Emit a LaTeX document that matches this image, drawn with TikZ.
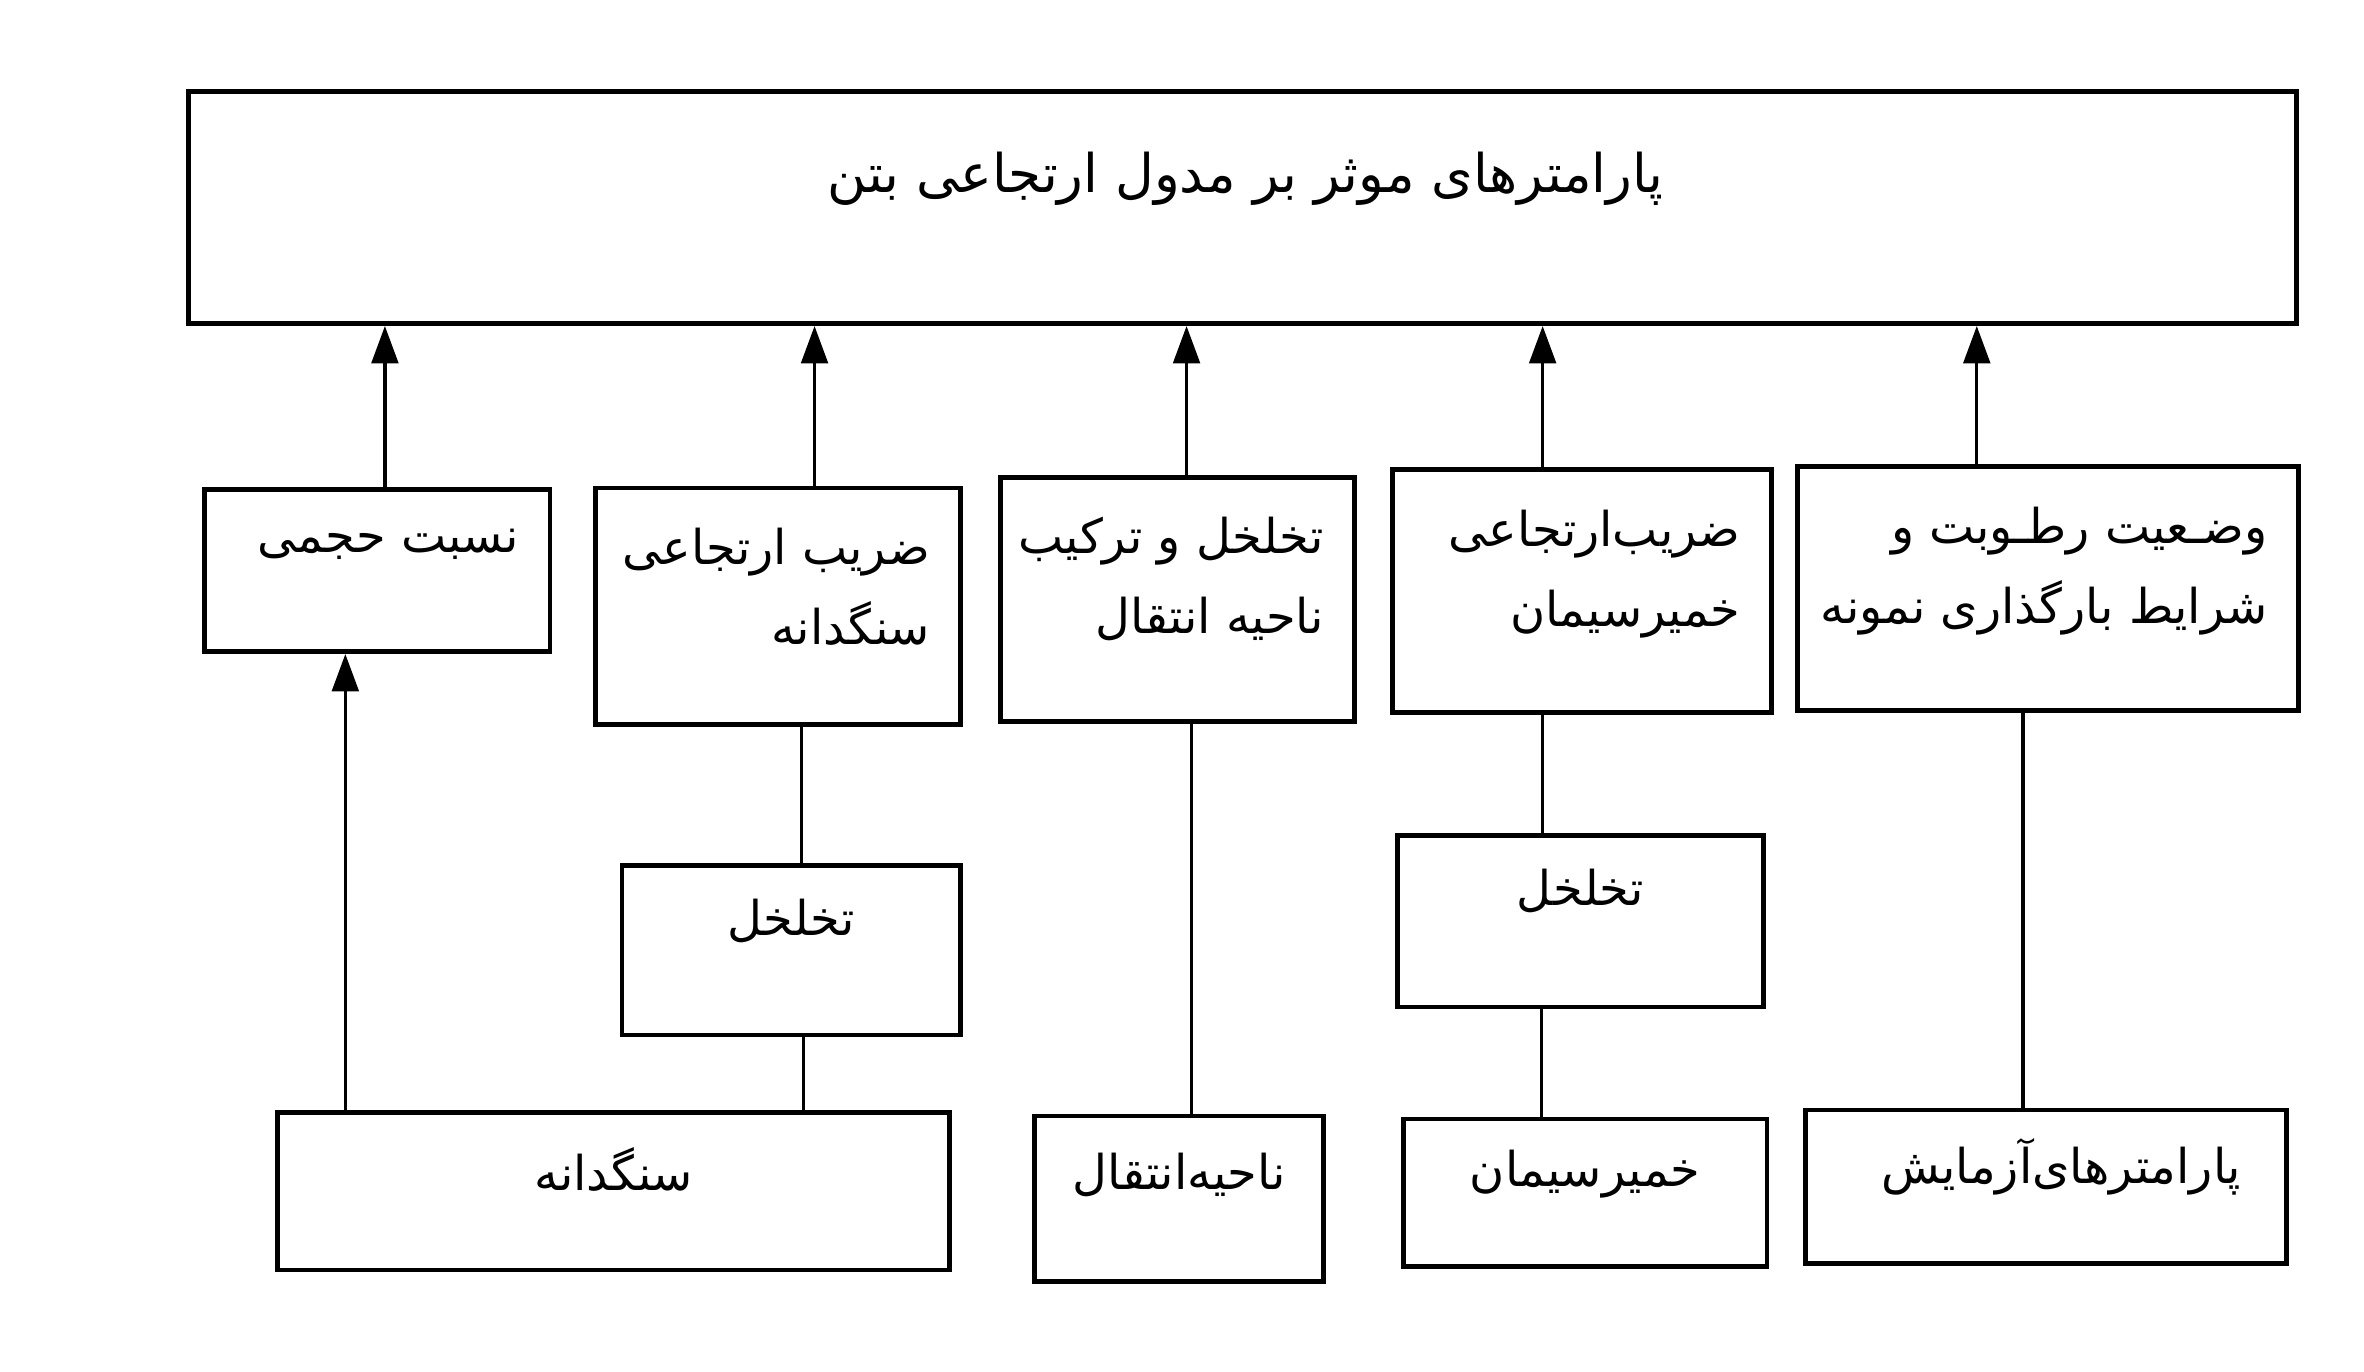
\documentclass[tikz,border=0pt]{standalone}
\usepackage{fontspec}
\newfontfamily\arabicfont[Script=Arabic]{DejaVu Sans}
\TeXXeTstate=1
\usetikzlibrary{arrows.meta}
\newcommand{\R}[1]{\beginR #1\endR}
\begin{document}
\begin{tikzpicture}[x=0.01cm,y=-0.01cm,
 box/.style={draw,line width=0.9pt,inner sep=0pt,font=\arabicfont\fontsize{9}{15}\selectfont},
 con/.style={line width=0.6pt},
 arr/.style={con,-{Triangle[length=7pt,width=5pt]}}]
\useasboundingbox (0,0) rectangle (1560,905);
\newcommand{\bx}[6]{\node[box,minimum width={(#4-#2)*0.01cm},minimum height={(#5-#3)*0.01cm}] (#1) at ({(#2+#4)/2},{(#3+#5)/2}) {}; \node[font=\arabicfont\fontsize{9}{15}\selectfont,align=right,anchor=north east] at (#4-8,#3+14) {#6};}
\node[box,minimum width=13.9cm,minimum height=1.53cm] (top) at (820,137) {};
\node[font=\arabicfont\fontsize{10}{15}\selectfont] at (822,118) {\R{پارامترهای موثر بر مدول ارتجاعی بتن}};
\bx{A}{135}{323}{363}{430}{\R{نسبت حجمی}}
\bx{B}{393}{322}{634}{478}{\R{ضریب ارتجاعی}\\\R{سنگدانه}}
\bx{C}{660}{315}{894}{476}{\R{تخلخل و ترکیب}\\\R{ناحیه انتقال}}
\bx{D}{919}{310}{1169}{470}{\R{ضریب‌ارتجاعی}\\\R{خمیرسیمان}}
\bx{E}{1186}{308}{1517}{469}{\R{وضـعیت رطـوبت و}\\\R{شرایط بارگذاری نمونه}}
\node[box,minimum width=2.23cm,minimum height=1.12cm] (F) at (522,627) {};
\node[font=\arabicfont\fontsize{9}{15}\selectfont] at (522,608) {\R{تخلخل}};
\node[box,minimum width=2.41cm,minimum height=1.13cm] (G) at (1043,608) {};
\node[font=\arabicfont\fontsize{9}{15}\selectfont] at (1043,588) {\R{تخلخل}};
\node[box,minimum width=4.43cm,minimum height=1.04cm] (H) at (405,786) {};
\node[font=\arabicfont\fontsize{9}{15}\selectfont] at (405,772) {\R{سنگدانه}};
\node[box,minimum width=1.91cm,minimum height=1.09cm] (I) at (778,791) {};
\node[font=\arabicfont\fontsize{9}{15}\selectfont] at (778,775) {\R{ناحیه‌انتقال}};
\node[box,minimum width=2.40cm,minimum height=0.97cm] (J) at (1046,787) {};
\node[font=\arabicfont\fontsize{9}{15}\selectfont] at (1046,775) {\R{خمیرسیمان}};
\node[box,minimum width=3.17cm,minimum height=1.01cm] (K) at (1350,783) {};
\node[font=\arabicfont\fontsize{9}{15}\selectfont] at (1360,770) {\R{پارامترهای‌آزمایش}};
\draw[arr] ([xshift=0.05cm]A.north) -- ([xshift=0.05cm]A.north |- top.south);
\draw[arr] ([xshift=0.24cm]B.north) -- ([xshift=0.24cm]B.north |- top.south);
\draw[arr] ([xshift=0.06cm]C.north) -- ([xshift=0.06cm]C.north |- top.south);
\draw[arr] ([xshift=-0.26cm]D.north) -- ([xshift=-0.26cm]D.north |- top.south);
\draw[arr] ([xshift=-0.47cm]E.north) -- ([xshift=-0.47cm]E.north |- top.south);
\draw[arr] ([xshift=-1.77cm]H.north) -- ([xshift=-1.77cm]H.north |- A.south);
\draw[con] ([xshift=0.07cm]F.north) -- ([xshift=0.07cm]F.north |- B.south);
\draw[con] ([xshift=0.08cm]F.south) -- ([xshift=0.08cm]F.south |- H.north);
\draw[con] ([xshift=0.08cm]I.north) -- ([xshift=0.08cm]I.north |- C.south);
\draw[con] ([xshift=-0.25cm]G.north) -- ([xshift=-0.25cm]G.north |- D.south);
\draw[con] ([xshift=-0.26cm]G.south) -- ([xshift=-0.26cm]G.south |- J.north);
\draw[con] ([xshift=-0.15cm]K.north) -- ([xshift=-0.15cm]K.north |- E.south);
\end{tikzpicture}
\end{document}
